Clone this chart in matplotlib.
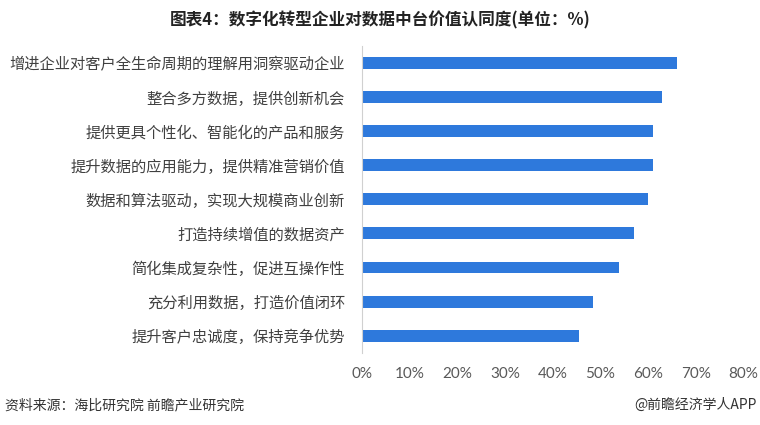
import matplotlib
matplotlib.use("Agg")
import matplotlib.pyplot as plt

plt.rcParams['font.family'] = ['Noto Sans CJK SC', 'DejaVu Sans']

categories = [
    "增进企业对客户全生命周期的理解用洞察驱动企业",
    "整合多方数据，提供创新机会",
    "提供更具个性化、智能化的产品和服务",
    "提升数据的应用能力，提供精准营销价值",
    "数据和算法驱动，实现大规模商业创新",
    "打造持续增值的数据资产",
    "简化集成复杂性，促进互操作性",
    "充分利用数据，打造价值闭环",
    "提升客户忠诚度，保持竞争优势",
]
values = [66, 63, 61, 61, 60, 57, 54, 48.5, 45.5]
xticks = [0, 10, 20, 30, 40, 50, 60, 70, 80]
xtick_labels = [f"{v}%" for v in xticks]

BAR = '#2E79DC'
TXT = '#404040'

fig = plt.figure(figsize=(7.6, 4.25), dpi=100)
ax = fig.add_axes([0.476, 0.170, 0.502, 0.722])

y = list(range(len(categories)))
ax.barh(y, values, height=0.35, color=BAR)
ax.set_ylim(len(categories) - 0.5, -0.5)
ax.set_xlim(0, 80)
ax.set_yticks(y)
ax.set_yticklabels(categories, fontsize=11.0, color=TXT)
ax.set_xticks(xticks)
ax.set_xticklabels(xtick_labels, fontsize=11, color='#595959', family=['Lato', 'DejaVu Sans'])
ax.tick_params(axis='both', length=0)
ax.tick_params(axis='y', pad=12)
ax.tick_params(axis='x', pad=10)
for s in ['top', 'right', 'bottom']:
    ax.spines[s].set_visible(False)
ax.spines['left'].set_color('#d0d0d0')
ax.spines['left'].set_linewidth(0.8)

fig.text(0.5, 0.952, "图表4：数字化转型企业对数据中台价值认同度(单位：%)",
         ha='center', va='center', fontsize=12, fontweight='bold', color='#222222')
fig.text(0.007, 0.047, "资料来源：海比研究院 前瞻产业研究院",
         ha='left', va='center', fontsize=10, color='#333333')
fig.text(0.995, 0.047, "@前瞻经济学人APP",
         ha='right', va='center', fontsize=10, color='#333333')

fig.savefig('out.png', dpi=100)
